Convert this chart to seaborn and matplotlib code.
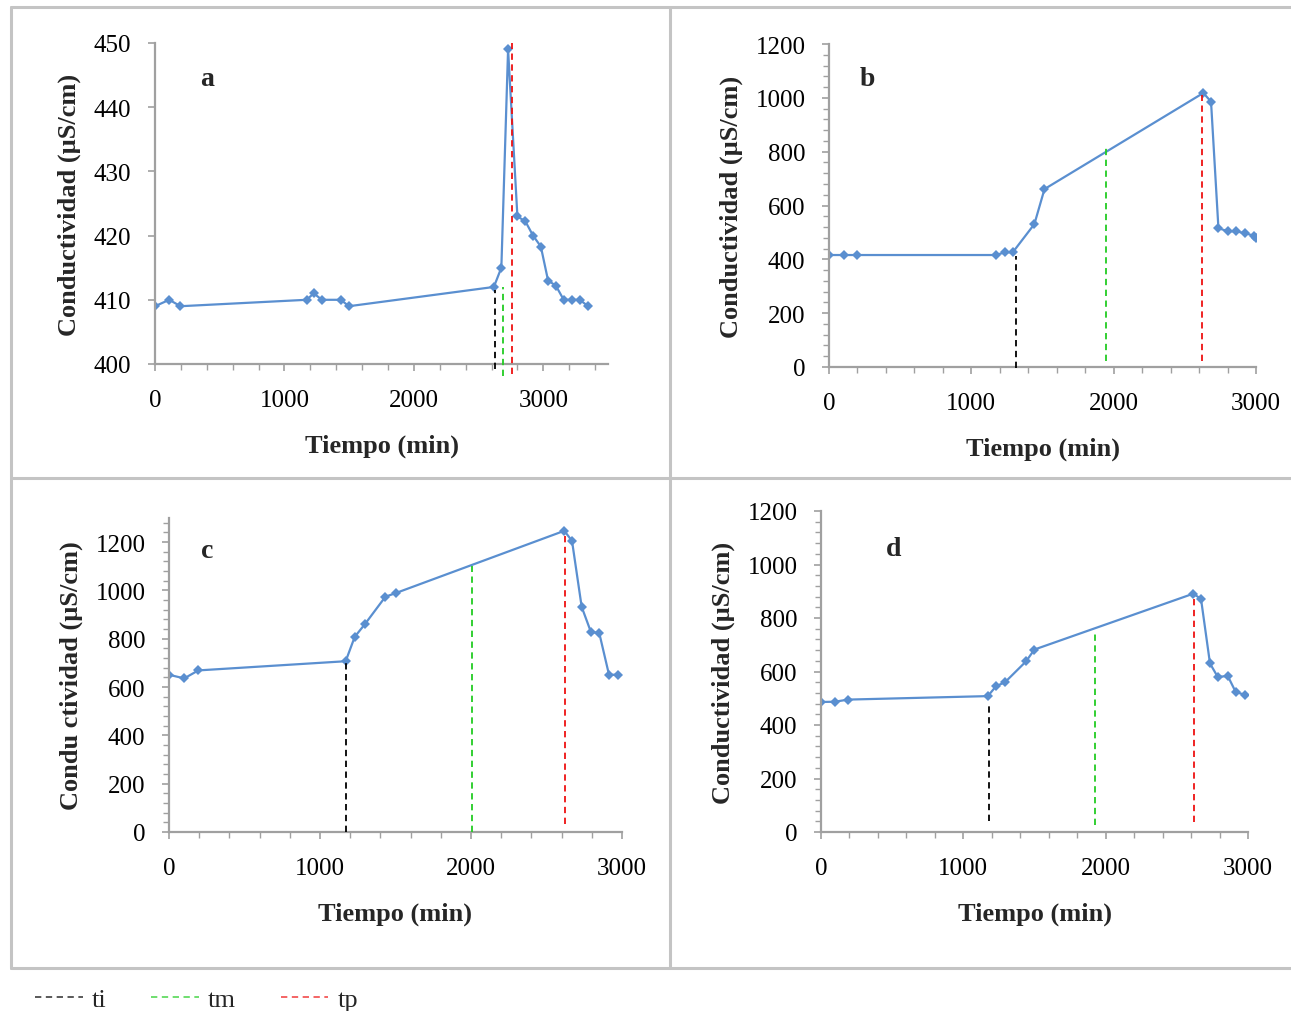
import numpy as np
import pandas as pd
import matplotlib
matplotlib.use("Agg")
import matplotlib.pyplot as plt
from matplotlib.lines import Line2D
from matplotlib.ticker import MultipleLocator
import seaborn as sns

# ---------------- data ----------------
t_a = [0, 110, 197, 1171, 1227, 1289, 1436, 1498, 2618, 2676, 2728, 2800, 2862, 2921, 2981, 3037, 3097, 3158, 3220, 3282, 3346]
c_a = [409, 410, 409, 410, 411, 410, 410, 409, 412, 415, 449, 423, 422.2, 420, 418.3, 413, 412.2, 410, 410, 410, 409]

t_b = [0, 108, 195, 1171, 1237, 1291, 1443, 1514, 2630, 2684, 2736, 2802, 2860, 2924, 2983, 3000]
c_b = [416, 416, 416, 416, 426, 426, 531, 661, 1018, 986, 516, 504, 504, 497, 488, 478]

t_c = [0, 101, 194, 1170, 1230, 1298, 1433, 1501, 2618, 2669, 2733, 2793, 2850, 2914, 2976]
c_c = [651, 636, 669, 707, 808, 861, 974, 989, 1247, 1205, 932, 830, 822, 651, 651]

t_d = [0, 96, 192, 1172, 1230, 1293, 1441, 1499, 2616, 2670, 2733, 2787, 2858, 2914, 2979]
c_d = [486, 487, 495, 508, 545, 560, 638, 682, 891, 871, 630, 580, 583, 523, 513]

# characteristic times (ti, tm, tp) with the extent of each marker line
vt_a = [2625, 2687, 2762]
vtop_a = [411.5, 412, 450]
vbot_a = [399.2, 398.2, 398.4]

vt_b = [1314, 1947, 2622]
vtop_b = [412, 813, 1012]
vbot_b = [-2, 23, 23]

vt_c = [1172, 2007, 2621]
vtop_c = [707, 1103, 1240]
vbot_c = [0, 0, 33]

vt_d = [1181, 1927, 2623]
vtop_d = [477, 744, 881]
vbot_d = [42, 26, 37]

legend_labels = ["ti", "tm", "tp"]
panel_labels = ["a", "b", "c", "d"]
ylabels = ["Conductividad (µS/cm)", "Conductividad (µS/cm)",
           "Condu ctividad (µS/cm)", "Conductividad (µS/cm)"]
xlabel = "Tiempo (min)"

# ---------------- style ----------------
sns.set_theme(style="white")
plt.rcParams["font.family"] = ["Liberation Serif", "DejaVu Serif"]

W, H = 1291, 1012
fig = plt.figure(figsize=(W / 100, H / 100), dpi=100)

line_col = "#5a8fd0"
vcols = ["#000000", "#22cc22", "#ee1111"]
spine_col = "#a0a0a0"

def px_rect(l, r, t, b):
    return [l / W, 1 - b / H, (r - l) / W, (b - t) / H]

panels = [
    dict(t=t_a, c=c_a, vt=vt_a, vtop=vtop_a, vbot=vbot_a,
         rect=px_rect(155, 608, 44, 365), xlim=(0, 3500), ylim=(400, 450),
         ymaj=10, ymin=None, lab=(0.115, 0.888)),
    dict(t=t_b, c=c_b, vt=vt_b, vtop=vtop_b, vbot=vbot_b,
         rect=px_rect(829, 1256, 45, 368), xlim=(0, 3000), ylim=(0, 1200),
         ymaj=200, ymin=40, lab=(0.091, 0.892)),
    dict(t=t_c, c=c_c, vt=vt_c, vtop=vtop_c, vbot=vbot_c,
         rect=px_rect(169, 622, 519, 833), xlim=(0, 3000), ylim=(0, 1300),
         ymaj=200, ymin=40, lab=(0.084, 0.895)),
    dict(t=t_d, c=c_d, vt=vt_d, vtop=vtop_d, vbot=vbot_d,
         rect=px_rect(821, 1248, 512, 833), xlim=(0, 3000), ylim=(0, 1200),
         ymaj=200, ymin=40, lab=(0.169, 0.882)),
]

for i, p in enumerate(panels):
    ax = fig.add_axes(p["rect"])
    df = pd.DataFrame({"t": p["t"], "c": p["c"]})
    sns.lineplot(data=df, x="t", y="c", ax=ax, color=line_col, lw=1.6,
                 marker="D", markersize=5.5, markeredgewidth=0,
                 estimator=None, sort=False)
    for x, yt, yb, col in zip(p["vt"], p["vtop"], p["vbot"], vcols):
        ax.vlines(x, yb, yt, colors=col, linestyles=(0, (3.5, 2.5)), lw=1.3,
                  clip_on=False, zorder=3)
    ax.set_xlim(*p["xlim"])
    ax.set_ylim(*p["ylim"])
    ax.xaxis.set_major_locator(MultipleLocator(1000))
    ax.xaxis.set_minor_locator(MultipleLocator(200))
    ax.yaxis.set_major_locator(MultipleLocator(p["ymaj"]))
    if p["ymin"]:
        ax.yaxis.set_minor_locator(MultipleLocator(p["ymin"]))
    for s in ["top", "right"]:
        ax.spines[s].set_visible(False)
    for s in ["left", "bottom"]:
        ax.spines[s].set_color(spine_col)
        ax.spines[s].set_linewidth(1.6)
    ax.tick_params(axis="both", which="both", direction="out", colors=spine_col,
                   length=5, width=1.2, labelcolor="black", labelsize=18,
                   bottom=True, left=True, top=False, right=False)
    ax.tick_params(axis="both", which="minor", length=4, width=1.0)
    ax.tick_params(axis="x", which="major", pad=13)
    ax.tick_params(axis="y", which="major", pad=12)
    ax.set_xlabel(xlabel, fontsize=19, fontweight="bold", labelpad=16)
    ax.set_ylabel(ylabels[i], fontsize=19, fontweight="bold", labelpad=9)
    ax.text(p["lab"][0], p["lab"][1], panel_labels[i], transform=ax.transAxes,
            fontsize=20, fontweight="bold", ha="center", va="center")
    ax.set_facecolor("white")

# panel frame lines
fl = dict(color="#c4c4c4", lw=2.2, transform=fig.transFigure)
fig.add_artist(Line2D([11 / W, 1.0], [1 - 8 / H] * 2, **fl))
fig.add_artist(Line2D([11 / W, 1.0], [1 - 969 / H] * 2, **fl))
fig.add_artist(Line2D([11 / W, 1.0], [1 - 479 / H] * 2, **fl))
fig.add_artist(Line2D([11 / W] * 2, [1 - 8 / H, 1 - 969 / H], **fl))
fig.add_artist(Line2D([670 / W] * 2, [1 - 8 / H, 1 - 969 / H], **fl))

handles = [Line2D([0], [0], color=c, lw=1.3, linestyle=(0, (3.5, 2.5)), alpha=0.7)
           for c in vcols]
fig.legend(handles, legend_labels, loc="center left",
           bbox_to_anchor=(35 / W, 1 - 1000 / H), ncol=3, frameon=False,
           fontsize=19, handlelength=1.8, handletextpad=0.35,
           columnspacing=1.7, borderaxespad=0, borderpad=0)

fig.savefig("out.png", dpi=100, facecolor="white")
